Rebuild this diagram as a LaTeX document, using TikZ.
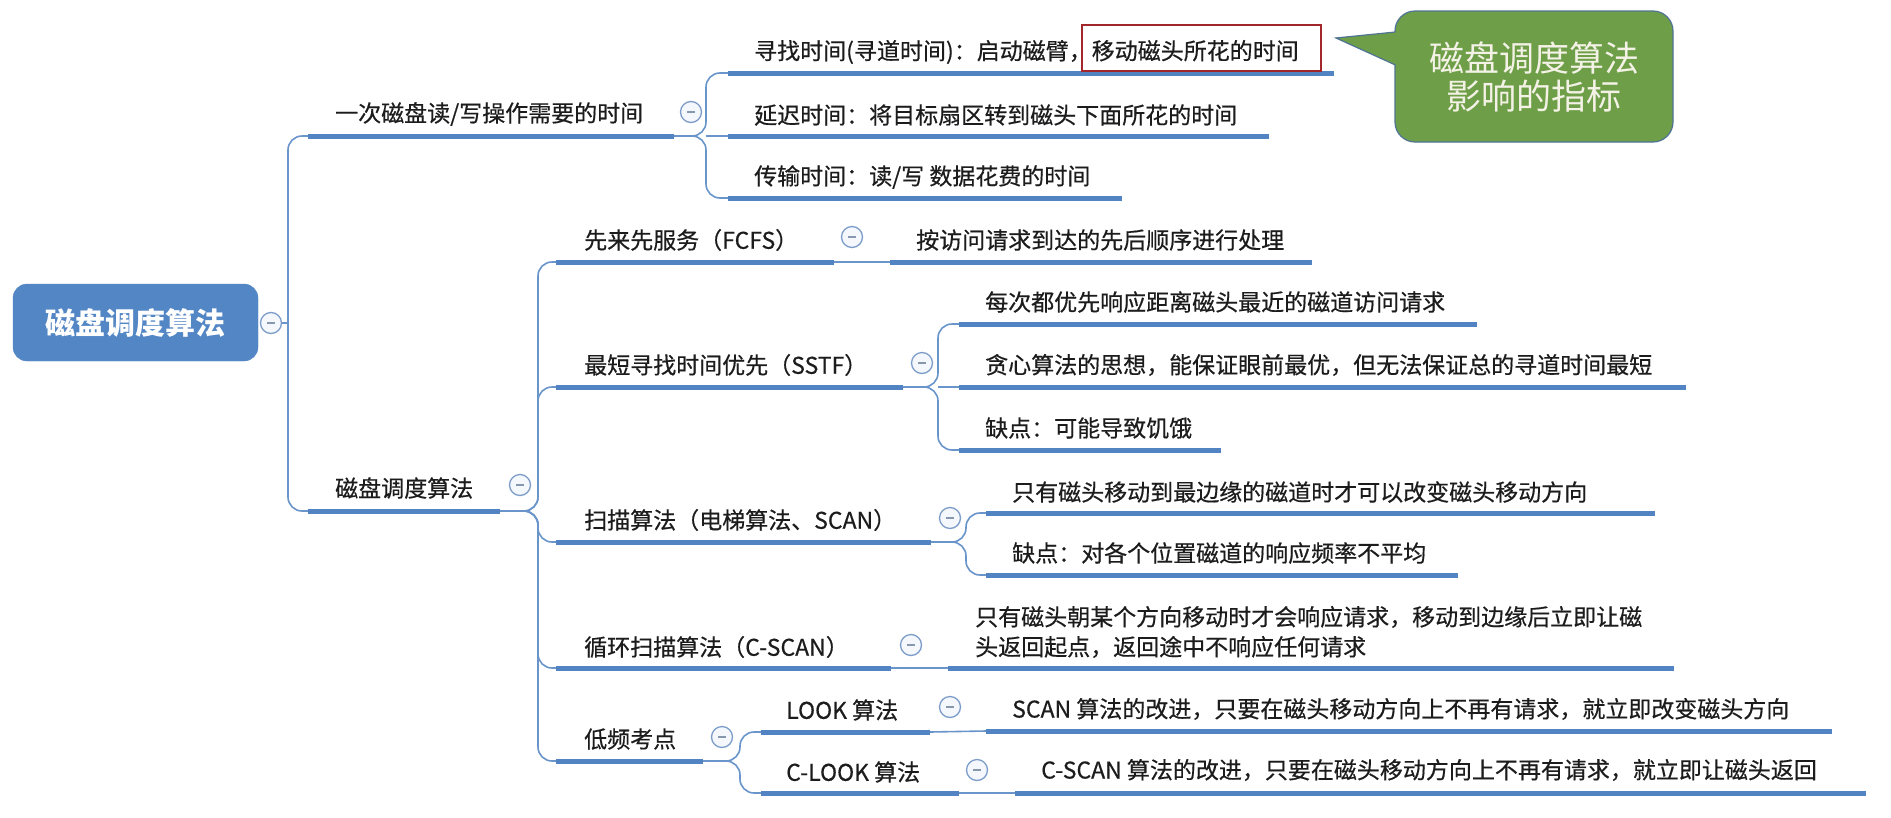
\documentclass[tikz,border=0pt]{standalone}
\usepackage{fontspec}
\setmainfont{Noto Sans CJK SC}
\newfontfamily\topicfont{Noto Sans CJK SC}[FakeBold=0.5]
\definecolor{ink}{HTML}{1C1C1C}
\definecolor{rootblue}{HTML}{5386C4}
\definecolor{barblue}{HTML}{5283C2}
\definecolor{linkblue}{HTML}{6A95CB}
\definecolor{knobedge}{HTML}{7C9DC9}
\definecolor{knobfill}{HTML}{F4F7FC}
\definecolor{knobdash}{HTML}{8797AE}
\definecolor{notegreen}{HTML}{6E9F48}
\definecolor{noteedge}{HTML}{4F7393}
\definecolor{notetext}{HTML}{F4F2E6}
\definecolor{markred}{HTML}{A3262A}
\begin{document}
\begin{tikzpicture}[x=1pt,y=-1pt,
  topic/.style={anchor=west,inner sep=0pt,text=ink,font=\topicfont\fontsize{23}{30}\selectfont},
  rootbox/.style={draw=rootblue,fill=rootblue,rounded corners=14pt,minimum width=245pt,minimum height=77pt,
    text=white,font=\bfseries\fontsize{30}{36}\selectfont,inner sep=0pt},
  bar/.style={line width=5pt,draw=barblue},
  link/.style={line width=1.6pt,draw=linkblue,rounded corners=14pt},
  knob/.style={circle,draw=knobedge,fill=knobfill,line width=1.3pt,minimum size=21pt,inner sep=0pt,
    path picture={\draw[knobdash,line width=1.3pt]
      ([xshift=-4pt]path picture bounding box.center) -- ([xshift=4pt]path picture bounding box.center);}},
  note/.style={fill=notegreen,draw=noteedge,line width=1.2pt}]

% page
\fill[white] (0,0) rectangle (1891,817);

% ---------------- root ----------------
\node[rootbox] (root) at (135.5,322.5) {磁盘调度算法};
\node[knob] (k0) at (271,323) {};
\coordinate (trunk) at (288,323);

% ---------------- first level ----------------
\coordinate (t1s) at (308,136); \coordinate (t1e) at (674,136);
\coordinate (t2s) at (308,511); \coordinate (t2e) at (500,511);
\node[topic] (t1) at (335,114) {一次磁盘读/写操作需要的时间};
\node[topic] (t2) at (335,488) {磁盘调度算法};
\draw[link] (k0) -- (trunk);
\draw[link] (t1s) -| (trunk) |- (t2s);
\draw[bar] (t1s) -- (t1e);
\draw[bar] (t2s) -- (t2e);
\node[knob] (k1) at (691,112) {};
\node[knob] (k2) at (520,485) {};

% ---------------- access time components ----------------
\coordinate (j1) at (706,136);
\coordinate (c11s) at (728,73);  \coordinate (c11e) at (1334,73);
\coordinate (c12s) at (728,136); \coordinate (c12e) at (1269,136);
\coordinate (c13s) at (728,198); \coordinate (c13e) at (1122,198);
\draw[link] (t1e) -- (j1) |- (c11s);
\draw[link] (t1e) -- (j1) |- (c13s);
\draw[link] (j1) -- (c12s);
\draw[bar] (c11s) -- (c11e);
\draw[bar] (c12s) -- (c12e);
\draw[bar] (c13s) -- (c13e);
\node[topic] (c11) at (754,52) {寻找时间(寻道时间)：启动磁臂，移动磁头所花的时间};
\node[topic] (c12) at (754,115) {延迟时间：将目标扇区转到磁头下面所花的时间};
\node[topic] (c13) at (754,177) {传输时间：读/写 数据花费的时间};
\draw[markred,line width=2pt] (1082,25) rectangle (1321,71);

% ---------------- scheduling algorithms ----------------
\coordinate (j2) at (538,511);
\coordinate (s1s) at (556,262); \coordinate (s1e) at (834,262);
\coordinate (s2s) at (556,387); \coordinate (s2e) at (903,387);
\coordinate (s3s) at (556,542); \coordinate (s3e) at (931,542);
\coordinate (s4s) at (556,668); \coordinate (s4e) at (891,668);
\coordinate (s5s) at (556,761); \coordinate (s5e) at (703,761);
\foreach \c in {s1s,s2s,s3s,s4s,s5s} {\draw[link] (t2e) -- (j2) |- (\c);}
\foreach \a/\b in {s1s/s1e,s2s/s2e,s3s/s3e,s4s/s4e,s5s/s5e} {\draw[bar] (\a) -- (\b);}
\node[topic] (s1) at (584,240) {先来先服务（FCFS）};
\node[topic] (s2) at (584,365) {最短寻找时间优先（SSTF）};
\node[topic] (s3) at (584,520) {扫描算法（电梯算法、SCAN）};
\node[topic] (s4) at (584,647) {循环扫描算法（C-SCAN）};
\node[topic] (s5) at (584,739) {低频考点};
\node[knob] (ks1) at (852,237) {};
\node[knob] (ks2) at (922,363) {};
\node[knob] (ks3) at (950,518) {};
\node[knob] (ks4) at (911,645) {};
\node[knob] (ks5) at (722,737) {};

% FCFS
\coordinate (f1s) at (890,262); \coordinate (f1e) at (1312,262);
\draw[link] (s1e) -- (f1s);
\draw[bar] (f1s) -- (f1e);
\node[topic] (f1) at (916,240) {按访问请求到达的先后顺序进行处理};

% SSTF
\coordinate (j3) at (938,387);
\coordinate (g1s) at (959,324); \coordinate (g1e) at (1477,324);
\coordinate (g2s) at (959,387); \coordinate (g2e) at (1686,387);
\coordinate (g3s) at (959,450); \coordinate (g3e) at (1221,450);
\draw[link] (s2e) -- (j3) |- (g1s);
\draw[link] (s2e) -- (j3) |- (g3s);
\draw[link] (j3) -- (g2s);
\foreach \a/\b in {g1s/g1e,g2s/g2e,g3s/g3e} {\draw[bar] (\a) -- (\b);}
\node[topic] (g1) at (985,302) {每次都优先响应距离磁头最近的磁道访问请求};
\node[topic] (g2) at (985,365) {贪心算法的思想，能保证眼前最优，但无法保证总的寻道时间最短};
\node[topic] (g3) at (985,428) {缺点：可能导致饥饿};

% SCAN
\coordinate (j4) at (966,542);
\coordinate (h1s) at (986,513); \coordinate (h1e) at (1655,513);
\coordinate (h2s) at (986,575); \coordinate (h2e) at (1458,575);
\draw[link] (s3e) -- (j4) |- (h1s);
\draw[link] (s3e) -- (j4) |- (h2s);
\draw[bar] (h1s) -- (h1e);
\draw[bar] (h2s) -- (h2e);
\node[topic] (h1) at (1012,492) {只有磁头移动到最边缘的磁道时才可以改变磁头移动方向};
\node[topic] (h2) at (1012,553) {缺点：对各个位置磁道的响应频率不平均};

% C-SCAN
\coordinate (m1s) at (948,668); \coordinate (m1e) at (1674,668);
\draw[link] (s4e) -- (m1s);
\draw[bar] (m1s) -- (m1e);
\node[topic,align=left] (m1) at (975,632) {只有磁头朝某个方向移动时才会响应请求，移动到边缘后立即让磁\\头返回起点，返回途中不响应任何请求};

% LOOK / C-LOOK
\coordinate (j5) at (740,761);
\coordinate (l1s) at (761,732); \coordinate (l1e) at (930,732);
\coordinate (l2s) at (761,793); \coordinate (l2e) at (959,793);
\draw[link] (s5e) -- (j5) |- (l1s);
\draw[link] (s5e) -- (j5) |- (l2s);
\draw[bar] (l1s) -- (l1e);
\draw[bar] (l2s) -- (l2e);
\node[topic] (l1) at (786,710) {LOOK 算法};
\node[topic] (l2) at (786,772) {C-LOOK 算法};
\node[knob] (kl1) at (950,707) {};
\node[knob] (kl2) at (977,770) {};
\coordinate (n1s) at (986,731); \coordinate (n1e) at (1832,731);
\coordinate (n2s) at (1015,793); \coordinate (n2e) at (1866,793);
\draw[link] (l1e) -- (n1s);
\draw[link] (l2e) -- (n2s);
\draw[bar] (n1s) -- (n1e);
\draw[bar] (n2s) -- (n2e);
\node[topic] (n1) at (1012,709) {SCAN 算法的改进，只要在磁头移动方向上不再有请求，就立即改变磁头方向};
\node[topic] (n2) at (1041,770) {C-SCAN 算法的改进，只要在磁头移动方向上不再有请求，就立即让磁头返回};

% ---------------- callout ----------------
\draw[note,rounded corners=20pt] (1395,11) rectangle (1673,142);
\fill[notegreen] (1336,38) -- (1396,32) -- (1401,32) -- (1401,65) -- (1396,65) -- cycle;
\draw[noteedge,line width=1.2pt,line join=miter] (1395.4,32) -- (1336,38) -- (1395.4,65);
\node[text=notetext,align=center,font=\fontsize{35}{38}\selectfont,inner sep=0pt] (callout) at (1534,77)
  {磁盘调度算法\\影响的指标};
\end{tikzpicture}
\end{document}
